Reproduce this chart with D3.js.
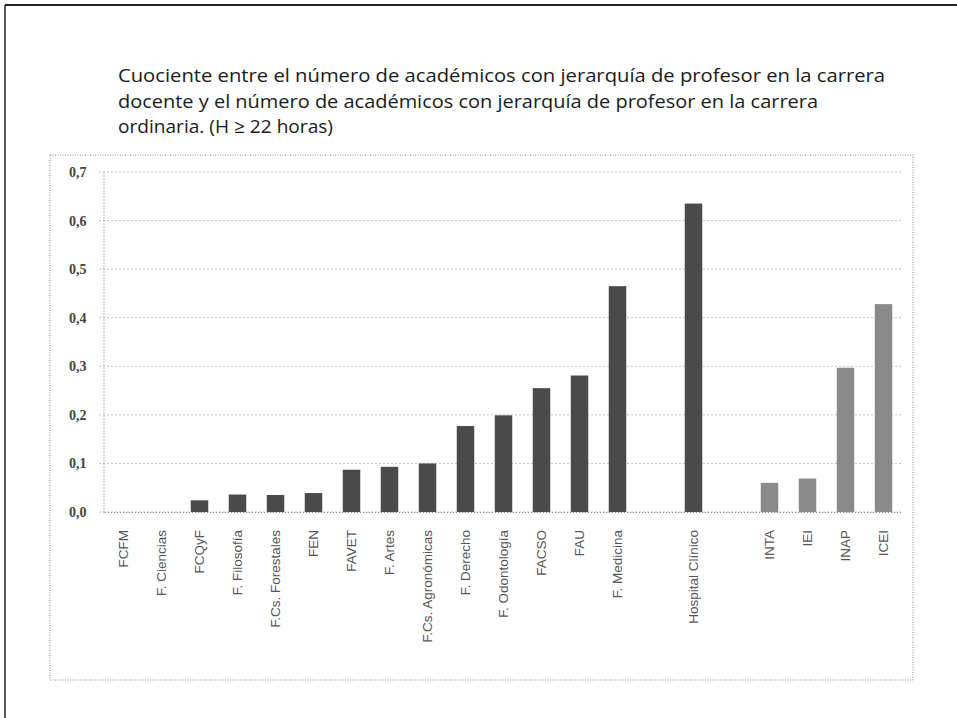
<!DOCTYPE html>
<html>
<head>
<meta charset="utf-8">
<script src="https://cdn.jsdelivr.net/npm/d3@7"></script>
<style>
  html, body { margin: 0; padding: 0; background: #fff; }
  svg { display: block; }
</style>
</head>
<body>
<svg id="chart" width="957" height="718"></svg>
<script>
// ---- Data ----
const categories = [
  "FCFM", "F. Ciencias", "FCQyF", "F. Filosofía", "F.Cs. Forestales", "FEN",
  "FAVET", "F. Artes", "F.Cs. Agronómicas", "F. Derecho", "F. Odontología",
  "FACSO", "FAU", "F. Medicina", "", "Hospital Clínico", " ",
  "INTA", "IEI", "INAP", "ICEI"
];
const values = [
  0, 0, 0.024, 0.036, 0.035, 0.039,
  0.087, 0.093, 0.100, 0.177, 0.199,
  0.255, 0.281, 0.465, null, 0.635, null,
  0.060, 0.069, 0.297, 0.428
];
const groups = [
  "fac", "fac", "fac", "fac", "fac", "fac",
  "fac", "fac", "fac", "fac", "fac",
  "fac", "fac", "fac", null, "fac", null,
  "inst", "inst", "inst", "inst"
];
const yTicks = [0, 0.1, 0.2, 0.3, 0.4, 0.5, 0.6, 0.7];
const titleLines = [
  "Cuociente entre el número de académicos con jerarquía de profesor en la carrera",
  "docente y el número de académicos con jerarquía de profesor en la carrera",
  "ordinaria. (H ≥ 22 horas)"
];

// ---- Layout ----
const svg = d3.select("#chart");
const plot = { left: 104.5, right: 902.5, top: 172, bottom: 512 };

// outer page frame (top and left edges)
svg.append("line").attr("x1", 5).attr("y1", 5).attr("x2", 957).attr("y2", 5)
  .attr("stroke", "#222").attr("stroke-width", 2);
svg.append("line").attr("x1", 5).attr("y1", 5).attr("x2", 5).attr("y2", 718)
  .attr("stroke", "#222").attr("stroke-width", 1.5);

// title
const titleWidths = [767, 700, 215];
svg.append("g").selectAll("text").data(titleLines).join("text")
  .attr("x", 118)
  .attr("y", (d, i) => 82 + i * 25.5)
  .attr("font-family", "'Open Sans', 'DejaVu Sans', sans-serif")
  .attr("font-size", 18.5)
  .attr("fill", "#1a1a1a")
  .attr("textLength", (d, i) => titleWidths[i])
  .attr("lengthAdjust", "spacingAndGlyphs")
  .text(d => d);

// chart box (dotted)
svg.append("rect")
  .attr("x", 50).attr("y", 155).attr("width", 863).attr("height", 525)
  .attr("fill", "none").attr("stroke", "#888").attr("stroke-width", 1)
  .attr("stroke-dasharray", "1,1.5");

// scales
const x = d3.scaleBand().domain(categories).range([plot.left, plot.right])
  .paddingInner(0.54).paddingOuter(0.27);
const y = d3.scaleLinear().domain([0, 0.7]).range([plot.bottom, plot.top]);

// gridlines
svg.append("g").selectAll("line").data(yTicks).join("line")
  .attr("x1", plot.left - 5).attr("x2", plot.right)
  .attr("y1", d => y(d)).attr("y2", d => y(d))
  .attr("stroke", "#8a8a8a").attr("stroke-width", 1)
  .attr("stroke-dasharray", "1,3");

// y axis
const yAxis = d3.axisLeft(y).tickValues(yTicks)
  .tickFormat(d => d3.format(".1f")(d).replace(".", ","))
  .tickSize(0).tickPadding(17);
const gy = svg.append("g").attr("transform", `translate(${plot.left - 1},0)`).call(yAxis);
gy.select(".domain").attr("stroke", "#777").attr("stroke-dasharray", "1,2");
gy.selectAll("text")
  .attr("font-family", "'Liberation Serif', 'DejaVu Serif', serif")
  .attr("font-size", 14).attr("font-weight", "bold").attr("fill", "#444");

// bars
svg.append("g").selectAll("rect")
  .data(categories.map((c, i) => ({ c, v: values[i], g: groups[i] })).filter(d => d.v !== null && d.v > 0))
  .join("rect")
  .attr("x", d => x(d.c))
  .attr("width", x.bandwidth())
  .attr("y", d => y(d.v))
  .attr("height", d => y(0) - y(d.v))
  .attr("fill", d => d.g === "inst" ? "#8a8a8a" : "#4a4a4a");

// x axis labels (rotated)
const xAxis = d3.axisBottom(x).tickSize(0).tickPadding(0);
const gx = svg.append("g").attr("transform", `translate(0,${plot.bottom})`).call(xAxis);
gx.select(".domain").attr("stroke", "#888").attr("stroke-dasharray", "1,2");
gx.selectAll("text")
  .attr("font-family", "'Liberation Sans', 'DejaVu Sans', sans-serif")
  .attr("font-size", 13.5).attr("fill", "#555")
  .attr("text-anchor", "end")
  .attr("dy", "0.35em")
  .attr("transform", d => `translate(0,18) rotate(-90)`)
  .attr("x", 0).attr("y", 0);
</script>
</body>
</html>
